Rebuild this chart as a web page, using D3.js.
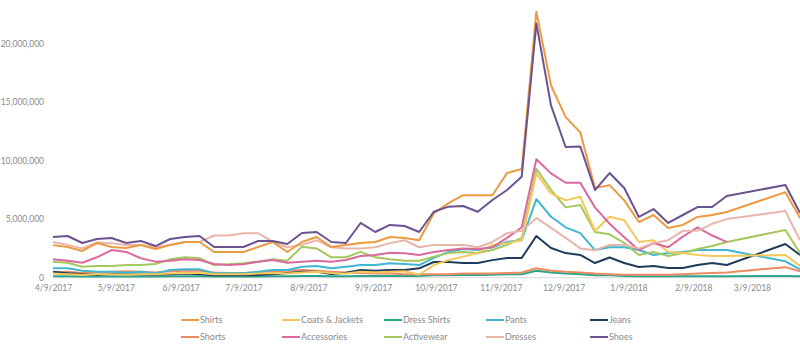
<!DOCTYPE html>
<html>
<head>
<meta charset="utf-8">
<script src="https://cdn.jsdelivr.net/npm/d3@7"></script>
<style>
  html, body { margin: 0; padding: 0; background: #ffffff; }
  svg { display: block; }
  text { font-family: Lato, "Open Sans", sans-serif; fill: #8a8a8a; }
</style>
</head>
<body>
<svg id="chart" width="800" height="345"></svg>
<script>
// ---- data (weekly, weeks 47-49 missing in source) ----
const weeks = [
  "2017-04-09","2017-04-16","2017-04-23","2017-04-30","2017-05-07","2017-05-14","2017-05-21","2017-05-28",
  "2017-06-04","2017-06-11","2017-06-18","2017-06-25","2017-07-02","2017-07-09","2017-07-16","2017-07-23",
  "2017-07-30","2017-08-06","2017-08-13","2017-08-20","2017-08-27","2017-09-03","2017-09-10","2017-09-17",
  "2017-09-24","2017-10-01","2017-10-08","2017-10-15","2017-10-22","2017-10-29","2017-11-05","2017-11-12",
  "2017-11-19","2017-11-26","2017-12-03","2017-12-10","2017-12-17","2017-12-24","2017-12-31","2018-01-07",
  "2018-01-14","2018-01-21","2018-01-28","2018-02-04","2018-02-11","2018-02-18","2018-02-25",
  "2018-03-25","2018-04-01"
];

const seriesNames = ["Shirts","Coats & Jackets","Dress Shirts","Pants","Jeans","Shorts","Accessories","Activewear","Dresses","Shoes"];

const shirts = [2780000,2620000,2280000,2960000,2620000,2530000,2790000,2450000,2790000,3050000,3050000,2190000,2190000,2190000,2620000,3050000,2190000,3050000,3470000,2620000,2790000,2960000,3050000,3470000,3390000,3200000,5500000,6360000,7040000,7040000,7040000,8930000,9270000,22700000,16400000,13700000,12400000,7650000,7900000,6600000,4750000,5350000,4240000,4500000,5180000,5350000,5600000,7300000,5100000];
const coatsJackets = [350000,300000,250000,300000,300000,250000,300000,300000,350000,400000,400000,300000,300000,300000,350000,400000,350000,450000,500000,400000,350000,500000,450000,500000,550000,250000,1080000,1500000,1800000,2100000,2800000,2950000,3200000,8900000,7200000,6600000,6900000,4000000,5200000,4900000,3050000,3200000,2200000,2100000,1940000,1850000,1850000,1940000,1000000];
const dressShirts = [120000,120000,100000,100000,100000,100000,100000,100000,120000,120000,120000,100000,100000,100000,100000,120000,120000,150000,150000,120000,120000,150000,150000,150000,150000,150000,200000,200000,220000,220000,250000,300000,300000,600000,450000,350000,300000,200000,200000,150000,120000,120000,120000,120000,120000,120000,120000,150000,120000];
const pants = [800000,800000,600000,510000,510000,430000,510000,370000,660000,720000,720000,370000,370000,370000,510000,660000,660000,940000,1000000,800000,940000,1080000,1080000,1230000,1170000,1080000,1700000,2200000,2450000,2360000,2600000,3050000,3200000,6700000,5200000,4300000,3800000,2360000,2600000,2600000,2360000,1940000,2100000,2200000,2360000,2360000,2360000,1400000,700000];
const jeans = [510000,370000,320000,230000,320000,300000,280000,250000,300000,350000,300000,200000,200000,200000,230000,300000,400000,510000,510000,320000,430000,660000,600000,660000,660000,800000,1340000,1340000,1250000,1250000,1500000,1680000,1680000,3560000,2530000,2100000,1940000,1250000,1720000,1250000,910000,1000000,830000,830000,1080000,1250000,1080000,2870000,1940000];
const shorts = [450000,500000,400000,450000,500000,550000,500000,450000,550000,600000,600000,450000,400000,400000,450000,550000,600000,650000,600000,500000,450000,400000,350000,350000,300000,300000,300000,300000,350000,350000,350000,400000,450000,800000,600000,500000,450000,350000,300000,250000,250000,250000,250000,300000,350000,400000,450000,900000,550000];
const accessories = [1570000,1450000,1280000,1740000,2360000,2200000,1660000,1370000,1450000,1570000,1510000,1170000,1080000,1140000,1370000,1510000,1280000,1370000,1450000,1370000,1510000,1850000,1940000,2130000,2080000,1940000,2200000,2360000,2500000,2450000,2600000,3400000,4300000,10100000,8900000,8100000,8100000,6000000,4600000,3450000,2360000,2960000,2600000,3500000,4300000,3600000,3050000,null,null];
const activewear = [1370000,1280000,940000,1000000,1000000,1080000,1080000,1170000,1570000,1740000,1660000,1080000,1140000,1230000,1370000,1570000,1450000,2650000,2500000,1740000,1740000,2200000,1740000,1570000,1450000,1450000,1800000,2100000,2200000,2100000,2360000,2800000,3400000,9300000,7500000,6000000,6200000,3900000,3700000,2960000,1940000,2200000,1850000,2100000,2450000,2700000,3050000,4070000,2100000];
const dresses = [3050000,2800000,2500000,3000000,2950000,2800000,2800000,2600000,2800000,3050000,3050000,3600000,3600000,3800000,3800000,3050000,2600000,2800000,3200000,2600000,2500000,2500000,2600000,2950000,3200000,2600000,2800000,2800000,2800000,2600000,3050000,3800000,4000000,5100000,4250000,3400000,2500000,2350000,2800000,2800000,2500000,2950000,3200000,4000000,4000000,4600000,5000000,5700000,3200000];
const shoes = [3470000,3560000,2960000,3300000,3390000,2960000,3130000,2700000,3300000,3470000,3560000,2620000,2620000,2620000,3130000,3130000,2880000,3810000,3900000,3050000,2960000,4670000,3900000,4500000,4410000,3900000,5630000,6060000,6120000,5630000,6630000,7480000,8620000,21700000,14700000,11150000,11200000,7480000,8930000,7650000,5180000,5860000,4670000,5350000,6030000,6030000,6970000,7910000,5520000];

const xTickDates = ["2017-04-09","2017-05-09","2017-06-09","2017-07-09","2017-08-09","2017-09-09","2017-10-09","2017-11-09","2017-12-09","2018-01-09","2018-02-09","2018-03-09"];
const yTicks = [0, 5000000, 10000000, 15000000, 20000000];

const colors = {
  "Shirts": "#ED9A40",
  "Coats & Jackets": "#F4C75A",
  "Dress Shirts": "#2CA58C",
  "Pants": "#40B6D1",
  "Jeans": "#1F3D5B",
  "Shorts": "#EE8B62",
  "Accessories": "#DA6A9E",
  "Activewear": "#A4C85E",
  "Dresses": "#E8B5A9",
  "Shoes": "#6B5392"
};

const valuesByName = {
  "Shirts": shirts, "Coats & Jackets": coatsJackets, "Dress Shirts": dressShirts,
  "Pants": pants, "Jeans": jeans, "Shorts": shorts, "Accessories": accessories,
  "Activewear": activewear, "Dresses": dresses, "Shoes": shoes
};

// ---- drawing ----
const svg = d3.select("#chart");
const parse = d3.utcParse("%Y-%m-%d");
const dates = weeks.map(parse);

const x = d3.scaleUtc()
  .domain([parse("2017-04-09"), parse("2018-04-01")])
  .range([53, 800]);
const y = d3.scaleLinear().domain([0, 20000000]).range([277.7, 43.3]);

// baseline
svg.append("line")
  .attr("x1", 53).attr("x2", 800)
  .attr("y1", y(0)).attr("y2", y(0))
  .attr("stroke", "#d9d9d9").attr("stroke-width", 1);

// y axis
const yAxis = d3.axisLeft(y).tickValues(yTicks).tickFormat(d3.format(",")).tickSize(0).tickPadding(0);
const yg = svg.append("g").attr("transform", "translate(44,0)").call(yAxis);
yg.select(".domain").remove();
yg.selectAll("text").style("font-size", "8.5px").attr("fill", "#8a8a8a");

// x axis
const fmt = d => (d.getUTCMonth() + 1) + "/" + d.getUTCDate() + "/" + d.getUTCFullYear();
const xAxis = d3.axisBottom(x).tickValues(xTickDates.map(parse)).tickFormat(fmt).tickSize(0).tickPadding(0);
const xg = svg.append("g").attr("transform", "translate(0,285)").call(xAxis);
xg.select(".domain").remove();
xg.selectAll("text").style("font-size", "8.5px").attr("fill", "#8a8a8a");

// lines
const line = d3.line()
  .defined(d => d.v !== null)
  .x(d => x(d.date))
  .y(d => y(d.v));

const drawOrder = ["Dress Shirts","Shorts","Jeans","Pants","Activewear","Coats & Jackets","Accessories","Dresses","Shirts","Shoes"];
drawOrder.forEach(name => {
  const vals = valuesByName[name];
  const pts = dates.map((dt, i) => ({ date: dt, v: vals[i] }));
  svg.append("path")
    .datum(pts)
    .attr("fill", "none")
    .attr("stroke", colors[name])
    .attr("stroke-width", 2)
    .attr("stroke-linejoin", "round")
    .attr("d", line);
});

// legend
const legendCols = [181, 282, 384, 486, 590];
const legendRows = [320, 337];
seriesNames.forEach((name, i) => {
  const col = i % 5, row = Math.floor(i / 5);
  const g = svg.append("g").attr("transform", `translate(${legendCols[col]},${legendRows[row]})`);
  g.append("line").attr("x1", 0).attr("x2", 18).attr("y1", 0).attr("y2", 0)
    .attr("stroke", colors[name]).attr("stroke-width", 2);
  g.append("text").attr("x", 19).attr("y", 0).attr("dy", "0.35em")
    .style("font-size", "9px").attr("fill", "#8a8a8a").text(name);
});
</script>
</body>
</html>
